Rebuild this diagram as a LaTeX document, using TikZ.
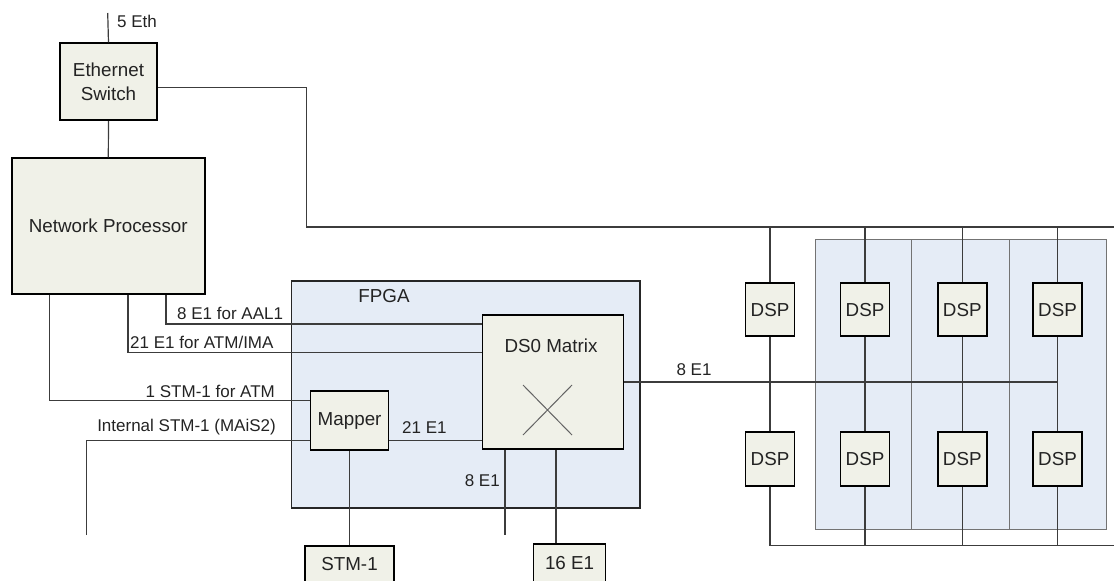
\documentclass[tikz,border=0pt]{standalone}
\usepackage{fontspec}
\setmainfont{Liberation Sans}
\usetikzlibrary{calc}
\definecolor{boxfill}{RGB}{240,241,232}
\definecolor{fpgafill}{RGB}{229,236,246}
\definecolor{wirecol}{RGB}{60,60,60}
\definecolor{txtcol}{RGB}{35,35,35}
\newcommand{\boxfont}{\fontsize{18.8}{24}\selectfont}
\newcommand{\tagfont}{\fontsize{17}{19}\selectfont}
\tikzset{
  unit/.style={draw=black, line width=1.7pt, fill=boxfill, inner sep=0pt, font=\boxfont, text=txtcol, align=center},
  tag/.style={inner sep=0pt, font=\tagfont, text=txtcol},
  wire/.style={draw=wirecol, line width=1.2pt},
}

\begin{document}
\begin{tikzpicture}[x=1pt,y=-1pt]
\useasboundingbox (0,0) rectangle (1114,581);
\clip (0,0) rectangle (1114,581);

% FPGA and the DSP board
\node[draw=black!85, line width=1.7pt, fill=fpgafill, minimum width=348.5pt, minimum height=227pt] (fpga) at (465.75,394.2) {};
\node[draw=black!55, line width=1pt, fill=fpgafill, minimum width=290.3pt, minimum height=290pt] (board) at (960.85,384) {};
\draw[black!55, line width=1pt] (911.7,239) -- (911.7,529) (1009,239) -- (1009,529);

% boxes
\node[unit, minimum width=97pt, minimum height=77pt] (es) at (108.5,81.7) {Ethernet\\Switch};
\node[unit, minimum width=193.3pt, minimum height=135.7pt] (np) at (108.3,226) {Network Processor};
\node[unit, minimum width=78pt, minimum height=59pt] (mapper) at (349.6,420.5) {Mapper};
\node[unit, minimum width=141pt, minimum height=134pt] (ds0) at (553,382) {};
\node[unit, minimum width=89pt, minimum height=37pt] (stm) at (349.5,564.5) {STM-1};
\node[unit, minimum width=72pt, minimum height=39pt] (e16) at (569.6,563.5) {16 E1};
\foreach \c/\x in {1/770,2/865,3/962.3,4/1057.5}{
  \node[unit, minimum width=49pt, minimum height=53pt] (dspa\c) at (\x,309.7) {DSP};
  \node[unit, minimum width=49pt, minimum height=54pt] (dspb\c) at (\x,458.9) {DSP};
}

% labels
\node[tag, font=\boxfont] (fpgalbl) at (384,296) {FPGA};
\node[tag, font=\boxfont] (ds0lbl) at (551,346) {DS0 Matrix};
\node[tag, anchor=west] (ethlbl) at (117,21) {5 Eth};
\node[tag, anchor=west] (aallbl) at (177,313) {8 E1 for AAL1};
\node[tag, anchor=west] (imalbl) at (130,342) {21 E1 for ATM/IMA};
\node[tag, anchor=east] (atmlbl) at (275,391.7) {1 STM-1 for ATM};
\node[tag, anchor=east] (intlbl) at (276,426.7) {Internal STM-1 (MAiS2)};
\node[tag, anchor=west] (m21lbl) at (402,428) {21 E1};
\node[tag, anchor=east] (e8lbl) at (500,481) {8 E1};
\node[tag] (outlbl) at (694,370) {8 E1};

% cross in the matrix
\coordinate (xc) at (547.5,410);
\draw[wirecol!80, line width=1pt] ($(xc)+(-24.5,-25)$) -- ($(xc)+(24.5,25)$)
  ($(xc)+(-24.5,25)$) -- ($(xc)+(24.5,-25)$);

% ethernet side
\coordinate (eth) at (107.7,13);
\coordinate (busw) at (306.7,227);
\coordinate (buse) at (1114,227);
\coordinate (bots) at (1114,545.7);
\draw[wire] (eth) -- (es.north);
\draw[wire] (es.south) -- (np.north);
\draw[wire] ([yshift=-6pt]es.east) -| (busw) -- (buse);
\foreach \c in {1,...,4}{
  \draw[wire] (dspa\c.north |- busw) -- (dspa\c.north);
  \draw[wire] (dspa\c.south) -- (dspb\c.north);
  \draw[wire] (dspb\c.south) -- (dspb\c.south |- bots);
}
\draw[wire] (dspb1.south |- bots) -- (bots);

% E1 / STM-1 links
\draw[wire] ([xshift=57.7pt]np.south) |- ([yshift=58pt]ds0.west);
\draw[wire] ([xshift=19.7pt]np.south) |- ([yshift=29.7pt]ds0.west);
\draw[wire] ([xshift=-58.7pt]np.south) |- ([yshift=19.8pt]mapper.west);
\coordinate (int) at (86.7,535);
\draw[wire] (int) |- ([yshift=-20pt]mapper.west);
\coordinate (m21) at ([yshift=-20pt]mapper.east);
\draw[wire] (m21) -- (m21 -| ds0.west);
\draw[wire] (ds0.east) -- (ds0.east -| dspa4.south);
\coordinate (e8) at (505,535);
\draw[wire] (e8 |- ds0.south) -- (e8);
\coordinate (d16) at ([xshift=3pt]ds0.south);
\draw[wire] (d16) -- (d16 |- e16.north);
\draw[wire] (mapper.south) -- (mapper.south |- stm.north);
\end{tikzpicture}
\end{document}
